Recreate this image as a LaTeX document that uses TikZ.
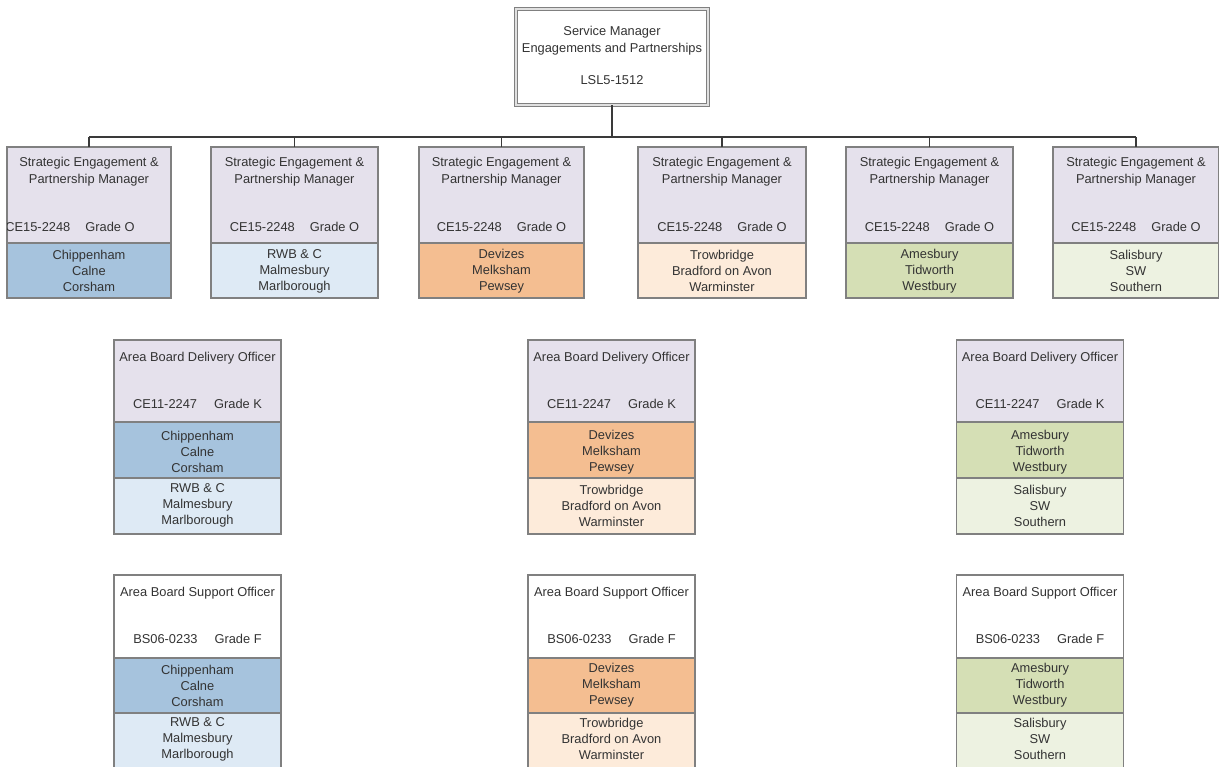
\documentclass[tikz,border=0pt]{standalone}
\usepackage{fontspec}
\setmainfont{Liberation Sans}
\definecolor{hdr}{HTML}{E5E1EC}
\definecolor{cblue}{HTML}{A6C3DD}
\definecolor{lblue}{HTML}{DEEAF5}
\definecolor{corange}{HTML}{F4BE91}
\definecolor{lorange}{HTML}{FDEBDA}
\definecolor{cgreen}{HTML}{D5DFB5}
\definecolor{lgreen}{HTML}{EDF2E1}
\definecolor{bordergray}{HTML}{808080}
\definecolor{txt}{HTML}{333333}
\definecolor{wirec}{HTML}{3A3A3A}
\begin{document}
\begin{tikzpicture}[x=1bp,y=-1bp,
  box/.style={draw=bordergray, line width=1.1bp, inner sep=0pt, outer sep=0pt},
  lbl/.style={text=txt, align=center, font=\fontsize{12.9}{16}\selectfont, inner sep=0pt},
  ttl/.style={lbl, font=\fontsize{12.9}{17}\selectfont},
  wire/.style={draw=wirec, line width=1.5bp}]
\useasboundingbox[fill=white] (0,0) rectangle (1219,767);

% top box
\node[box, draw=bordergray, line width=1.2bp, double=black!12, double distance=2.4bp,
      fill=white, minimum width=192bp, minimum height=96bp] (top) at (612,57) {};
\node[ttl] (toptitle) at (612,40.5) {Service Manager\\Engagements and Partnerships};
\node[lbl] (topcode) at (612,80) {LSL5-1512};

% bus
\coordinate (bus) at (612,137);

% row 1
\foreach \i/\x/\w/\col/\reg in {
  1/89/164/cblue/{Chippenham\\Calne\\Corsham},
  2/294.5/167/lblue/{RWB \& C\\Malmesbury\\Marlborough},
  3/501.5/165/corange/{Devizes\\Melksham\\Pewsey},
  4/722/168/lorange/{Trowbridge\\Bradford on Avon\\Warminster},
  5/929.5/167/cgreen/{Amesbury\\Tidworth\\Westbury},
  6/1136/166/lgreen/{Salisbury\\SW\\Southern}} {
  \node[box, fill=hdr, minimum width=\w bp, minimum height=96bp] (m\i) at (\x,195) {};
  \node[box, fill=\col, minimum width=\w bp, minimum height=55bp] (r\i) at (\x,270.5) {};
  \node[ttl] (mt\i) at (\x,171.5) {Strategic Engagement \&\\Partnership Manager};
  \node[lbl] (mr\i) at (\x,271) {\reg};
}
\foreach \i in {2,...,6} {
  \node[lbl] (mc\i) at (m\i |- 0,227) {CE15-2248\hspace{15bp}Grade O};
}
\begin{scope}
  \clip (7.6,147) rectangle (171,243);
  \node[lbl] (mc1) at (70,227) {CE15-2248\hspace{15bp}Grade O};
\end{scope}

% connectors
\draw[wire] (top.south) -- (bus);
\draw[wire] (m1.north |- bus) -- (m6.north |- bus);
\foreach \i in {1,...,6} {
  \draw[wire] (m\i.north |- bus) -- (m\i.north);
}

% rows 2 and 3
\foreach \j/\x/\ca/\cb/\ra/\rb in {
  1/197.5/cblue/lblue/{Chippenham\\Calne\\Corsham}/{RWB \& C\\Malmesbury\\Marlborough},
  2/611.5/corange/lorange/{Devizes\\Melksham\\Pewsey}/{Trowbridge\\Bradford on Avon\\Warminster},
  3/1040/cgreen/lgreen/{Amesbury\\Tidworth\\Westbury}/{Salisbury\\SW\\Southern}} {
  % delivery officer
  \node[box, fill=hdr, minimum width=167bp, minimum height=82bp] (d\j) at (\x,381) {};
  \node[box, fill=\ca, minimum width=167bp, minimum height=56bp] (da\j) at (\x,450) {};
  \node[box, fill=\cb, minimum width=167bp, minimum height=56bp] (db\j) at (\x,506) {};
  \node[lbl] (dt\j) at (\x,358) {Area Board Delivery Officer};
  \node[lbl] (dc\j) at (\x,404) {CE11-2247\hspace{17bp}Grade K};
  \node[lbl] (dra\j) at (\x,452) {\ra};
  \node[lbl] (drb\j) at (\x,505.5) {\rb};
  % support officer
  \node[box, fill=white, minimum width=167bp, minimum height=83bp] (s\j) at (\x,616.5) {};
  \node[box, fill=\ca, minimum width=167bp, minimum height=55bp] (sa\j) at (\x,685.5) {};
  \node[box, fill=\cb, minimum width=167bp, minimum height=60bp] (sb\j) at (\x,743) {};
  \node[lbl] (st\j) at (\x,593) {Area Board Support Officer};
  \node[lbl] (sc\j) at (\x,639) {BS06-0233\hspace{17bp}Grade F};
  \node[lbl] (sra\j) at (\x,685.5) {\ra};
  \node[lbl] (srb\j) at (\x,739) {\rb};
}
\end{tikzpicture}
\end{document}
